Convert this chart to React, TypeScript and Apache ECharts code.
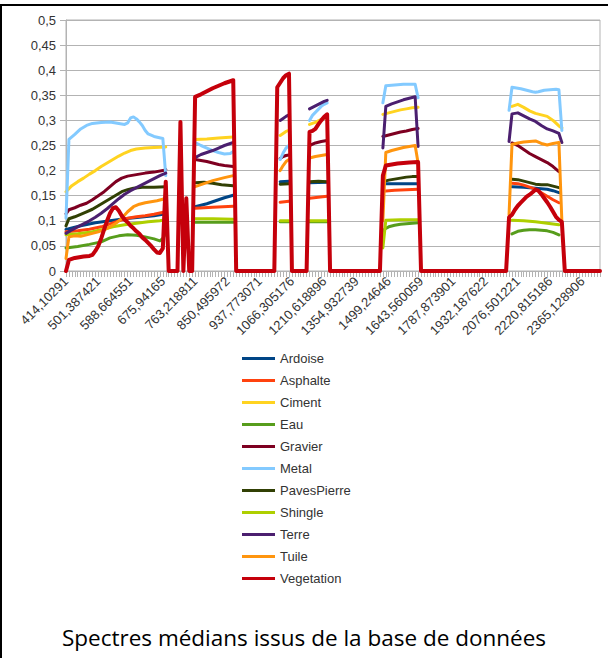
import React, { useEffect, useRef } from "react";
import * as echarts from "echarts";

// x-axis: spectral samples (category index); a label every 11 samples
const tickLabels = [
  "414,10291", "501,387421", "588,664551", "675,94165", "763,218811", "850,495972",
  "937,773071", "1066,305176", "1210,618896", "1354,932739", "1499,24646", "1643,560059",
  "1787,873901", "1932,187622", "2076,501221", "2220,815186", "2365,128906",
];
const LABEL_STEP = 11;
const CATEGORY_COUNT = 183;

const yTicks = [0, 0.05, 0.1, 0.15, 0.2, 0.25, 0.3, 0.35, 0.4, 0.45, 0.5];

const seriesNames = [
  "Ardoise", "Asphalte", "Ciment", "Eau", "Gravier", "Metal",
  "PavesPierre", "Shingle", "Terre", "Tuile", "Vegetation",
];
const seriesColors = [
  "#004586", "#ff420e", "#ffd320", "#579d1c", "#7e0021", "#83caff",
  "#314004", "#aecf00", "#4b1f6f", "#ff950e", "#c5000b",
];

// each series: segments of [sampleIndex, reflectance]
const ardoise = [
  [[0, 0.083], [5, 0.09], [10, 0.096], [15, 0.1], [20, 0.104], [25, 0.107], [30, 0.11], [34, 0.114]],
  [[44, 0.128], [46, 0.131], [48, 0.134], [50, 0.138], [52, 0.142], [54, 0.146], [57, 0.151]],
  [[73, 0.178], [76, 0.179]],
  [[83, 0.176], [89, 0.177]],
  [[108, 0.174], [114, 0.174], [120, 0.174]],
  [[152, 0.168], [156, 0.167], [160, 0.165], [164, 0.163], [166, 0.16], [168, 0.156]],
];
const asphalte = [
  [[0, 0.078], [4, 0.08], [8, 0.083], [12, 0.088], [15, 0.094], [18, 0.1], [21, 0.105], [24, 0.108], [27, 0.11], [30, 0.113], [34, 0.118]],
  [[44, 0.125], [50, 0.127], [57, 0.129]],
  [[73, 0.137], [76, 0.139]],
  [[83, 0.145], [86, 0.147], [89, 0.149]],
  [[108, 0.159], [112, 0.161], [116, 0.162], [120, 0.163]],
  [[152, 0.175], [154, 0.174], [156, 0.171], [158, 0.167], [160, 0.163], [162, 0.156], [164, 0.149], [166, 0.142], [168, 0.136]],
];
const ciment = [
  [[0, 0.158], [2, 0.17], [4, 0.178], [6, 0.185], [8, 0.193], [10, 0.2], [12, 0.208], [14, 0.215], [16, 0.222], [18, 0.229], [20, 0.235], [22, 0.24], [24, 0.243], [27, 0.245], [30, 0.246], [34, 0.247]],
  [[44, 0.262], [48, 0.263], [52, 0.265], [57, 0.267]],
  [[73, 0.27], [74, 0.274], [75, 0.278], [76, 0.28]],
  [[83, 0.292], [85, 0.296], [87, 0.302], [89, 0.307]],
  [[108, 0.312], [110, 0.315], [112, 0.318], [114, 0.321], [116, 0.323], [118, 0.325], [120, 0.326]],
  [[152, 0.328], [154, 0.332], [156, 0.326], [158, 0.319], [160, 0.314], [162, 0.311], [164, 0.308], [166, 0.3], [168, 0.289], [169, 0.285]],
];
const eau = [
  [[0, 0.046], [4, 0.049], [8, 0.053], [12, 0.058], [15, 0.066], [18, 0.07], [21, 0.072], [24, 0.071], [27, 0.068], [30, 0.064], [32, 0.06], [33, 0.065], [34, 0.075]],
  [[44, 0.097], [50, 0.097], [57, 0.097]],
  [[73, 0.098], [76, 0.098]],
  [[83, 0.098], [89, 0.098]],
  [[108, 0.08], [109, 0.085], [110, 0.088], [112, 0.091], [114, 0.093], [116, 0.094], [118, 0.095], [120, 0.096]],
  [[152, 0.074], [154, 0.079], [156, 0.081], [158, 0.082], [160, 0.082], [162, 0.081], [164, 0.08], [166, 0.077], [168, 0.072]],
];
const gravier = [
  [[0, 0.114], [1, 0.122], [3, 0.126], [5, 0.131], [7, 0.135], [9, 0.142], [11, 0.15], [13, 0.158], [15, 0.168], [17, 0.178], [19, 0.185], [21, 0.189], [23, 0.191], [25, 0.193], [27, 0.195], [30, 0.197], [33, 0.2], [34, 0.202]],
  [[44, 0.222], [46, 0.22], [48, 0.218], [50, 0.215], [52, 0.212], [54, 0.21], [57, 0.208]],
  [[73, 0.224], [74, 0.228], [75, 0.23], [76, 0.231]],
  [[83, 0.25], [85, 0.255], [87, 0.258], [89, 0.26]],
  [[108, 0.268], [110, 0.271], [112, 0.274], [114, 0.277], [116, 0.279], [118, 0.282], [120, 0.284]],
  [[152, 0.255], [154, 0.25], [156, 0.242], [158, 0.234], [160, 0.228], [162, 0.222], [164, 0.216], [166, 0.208], [168, 0.198]],
];
const metal = [
  [[0, 0.105], [1, 0.262], [3, 0.272], [5, 0.283], [7, 0.29], [9, 0.294], [12, 0.296], [15, 0.297], [18, 0.294], [20, 0.292], [21, 0.295], [22, 0.305], [23, 0.307], [24, 0.303], [25, 0.297], [26, 0.29], [27, 0.28], [28, 0.273], [30, 0.268], [33, 0.264], [34, 0.19]],
  [[44, 0.256], [46, 0.25], [48, 0.245], [50, 0.24], [52, 0.236], [54, 0.233], [56, 0.234], [57, 0.238]],
  [[73, 0.222], [74, 0.235], [75, 0.245], [76, 0.25]],
  [[83, 0.3], [84, 0.31], [85, 0.316], [86, 0.322], [87, 0.328], [88, 0.332], [89, 0.335]],
  [[108, 0.335], [109, 0.369], [111, 0.37], [113, 0.371], [115, 0.372], [117, 0.372], [119, 0.372], [120, 0.345]],
  [[151, 0.32], [152, 0.366], [153, 0.365], [155, 0.363], [157, 0.36], [159, 0.357], [160, 0.356], [161, 0.357], [163, 0.36], [165, 0.361], [167, 0.362], [168, 0.361], [169, 0.28]],
];
const pavesPierre = [
  [[0, 0.09], [1, 0.104], [3, 0.108], [5, 0.113], [7, 0.118], [9, 0.123], [11, 0.13], [13, 0.137], [15, 0.144], [17, 0.151], [19, 0.158], [21, 0.162], [23, 0.165], [26, 0.167], [30, 0.167], [34, 0.168]],
  [[44, 0.176], [47, 0.177], [50, 0.175], [53, 0.172], [57, 0.17]],
  [[73, 0.173], [76, 0.174]],
  [[83, 0.178], [86, 0.179], [89, 0.178]],
  [[108, 0.178], [110, 0.181], [112, 0.183], [114, 0.185], [116, 0.187], [118, 0.188], [120, 0.188]],
  [[152, 0.183], [154, 0.182], [156, 0.179], [158, 0.176], [160, 0.173], [162, 0.172], [164, 0.172], [166, 0.169], [168, 0.166]],
];
const shingle = [
  [[0, 0.072], [4, 0.074], [8, 0.077], [12, 0.082], [16, 0.088], [20, 0.092], [24, 0.095], [28, 0.098], [32, 0.1], [34, 0.102]],
  [[44, 0.104], [50, 0.104], [57, 0.103]],
  [[73, 0.1], [76, 0.1]],
  [[83, 0.1], [89, 0.1]],
  [[108, 0.046], [109, 0.101], [114, 0.102], [120, 0.102]],
  [[152, 0.101], [156, 0.1], [160, 0.098], [164, 0.095], [168, 0.092]],
];
const terre = [
  [[0, 0.075], [2, 0.082], [4, 0.088], [6, 0.094], [8, 0.1], [10, 0.107], [12, 0.115], [14, 0.124], [16, 0.134], [18, 0.144], [20, 0.153], [22, 0.16], [24, 0.166], [26, 0.172], [28, 0.178], [30, 0.184], [32, 0.19], [34, 0.195]],
  [[44, 0.226], [46, 0.232], [48, 0.236], [50, 0.24], [52, 0.245], [54, 0.25], [56, 0.254], [57, 0.256]],
  [[73, 0.3], [74, 0.304], [75, 0.308], [76, 0.311]],
  [[83, 0.323], [84, 0.326], [85, 0.329], [86, 0.332], [87, 0.335], [88, 0.338], [89, 0.34]],
  [[108, 0.245], [109, 0.328], [111, 0.333], [113, 0.337], [115, 0.341], [117, 0.344], [119, 0.347], [120, 0.248]],
  [[151, 0.258], [152, 0.313], [154, 0.315], [156, 0.309], [158, 0.303], [160, 0.298], [162, 0.29], [164, 0.283], [166, 0.279], [168, 0.274], [169, 0.256]],
];
const tuile = [
  [[0, 0.025], [1, 0.068], [3, 0.07], [5, 0.069], [7, 0.072], [9, 0.075], [11, 0.078], [13, 0.082], [15, 0.088], [17, 0.095], [19, 0.105], [21, 0.118], [23, 0.128], [25, 0.133], [27, 0.136], [29, 0.138], [31, 0.14], [33, 0.143], [34, 0.146]],
  [[44, 0.168], [46, 0.172], [48, 0.176], [50, 0.18], [52, 0.183], [54, 0.186], [57, 0.19]],
  [[73, 0.2], [74, 0.21], [75, 0.218], [76, 0.222]],
  [[83, 0.225], [85, 0.228], [87, 0.23], [89, 0.232]],
  [[108, 0.1], [109, 0.236], [111, 0.24], [113, 0.243], [115, 0.246], [117, 0.248], [119, 0.25], [120, 0.215]],
  [[151, 0.112], [152, 0.252], [154, 0.255], [156, 0.257], [158, 0.258], [160, 0.259], [162, 0.254], [164, 0.251], [166, 0.254], [168, 0.256], [169, 0.1]],
];
const vegetation = [
  [
    [0, 0], [1, 0.022], [3, 0.026], [6, 0.029], [8, 0.03], [9, 0.032], [10, 0.04], [11, 0.05], [12, 0.065],
    [13, 0.083], [14, 0.1], [15, 0.115], [16, 0.125], [17, 0.127], [18, 0.12], [19, 0.11], [20, 0.102],
    [21, 0.097], [22, 0.09], [23, 0.085], [24, 0.079], [25, 0.074], [26, 0.067], [27, 0.062], [28, 0.056],
    [29, 0.05], [30, 0.043], [31, 0.037], [32, 0.036], [33, 0.045], [34, 0.178], [35, 0],
    [38, 0], [39, 0.297], [40, 0], [41, 0.145], [42, 0], [43, 0],
    [44, 0.347], [46, 0.352], [48, 0.358], [50, 0.364], [52, 0.369], [54, 0.374], [56, 0.378], [57, 0.38], [58, 0],
    [71, 0], [72, 0.366], [73, 0.375], [74, 0.384], [75, 0.39], [76, 0.393], [77, 0],
    [82, 0], [83, 0.277], [84, 0.279], [85, 0.283], [86, 0.292], [87, 0.3], [88, 0.307], [89, 0.312], [90, 0],
    [107, 0], [108, 0.19], [109, 0.21], [111, 0.212], [113, 0.214], [115, 0.215], [117, 0.216], [120, 0.217], [121, 0],
    [150, 0], [151, 0.107], [152, 0.112], [153, 0.122], [154, 0.13], [155, 0.136], [156, 0.142], [157, 0.148],
    [158, 0.152], [159, 0.157], [160, 0.162], [161, 0.16], [162, 0.153], [163, 0.145], [164, 0.137],
    [165, 0.128], [166, 0.118], [167, 0.108], [168, 0.102], [169, 0.098], [170, 0], [182, 0],
  ],
];

const seriesSegments = [
  ardoise, asphalte, ciment, eau, gravier, metal, pavesPierre, shingle, terre, tuile, vegetation,
];

const titleText = "Spectres médians issus de la base de données";

function toLineData(segments: number[][][]) {
  const out: any[] = [];
  segments.forEach((seg, i) => {
    if (i > 0) out.push([seg[0][0] - 1, "-"]);
    seg.forEach((p) => out.push([p[0], p[1]]));
  });
  return out;
}

const categories = Array.from({ length: CATEGORY_COUNT }, (_, i) =>
  i % LABEL_STEP === 0 && tickLabels[i / LABEL_STEP] ? tickLabels[i / LABEL_STEP] : ""
);

const AXIS_GRAY = "#b3b3b3";
const TEXT = "#333333";
const FONT = "Liberation Sans";

export default function App() {
  const ref = useRef<HTMLDivElement>(null);
  useEffect(() => {
    document.body.style.margin = "0";
    if (!ref.current) return;
    const chart = echarts.init(ref.current, undefined, { renderer: "svg" });
    chart.setOption({
      animation: false,
      backgroundColor: "#ffffff",
      title: {
        text: titleText,
        left: "center",
        top: 626,
        padding: 0,
        textStyle: { fontFamily: "Open Sans", fontSize: 22.5, fontWeight: "normal", color: "#000000" },
      },
      legend: {
        orient: "vertical",
        left: 242,
        top: 352,
        padding: 0,
        itemWidth: 33,
        itemHeight: 3,
        itemGap: 9,
        icon: "rect",
        data: seriesNames,
        textStyle: { fontFamily: FONT, fontSize: 13, color: TEXT },
      },
      grid: {
        left: 66,
        right: 8,
        top: 20,
        bottom: 387,
        show: true,
        borderColor: AXIS_GRAY,
        borderWidth: 1,
      },
      xAxis: {
        type: "category",
        data: categories,
        boundaryGap: false,
        axisLine: { lineStyle: { color: AXIS_GRAY, width: 1 } },
        axisTick: { show: true, interval: 0, length: 6, lineStyle: { color: AXIS_GRAY } },
        axisLabel: {
          interval: LABEL_STEP - 1,
          rotate: 45,
          margin: 8,
          fontFamily: FONT,
          fontSize: 13,
          color: TEXT,
        },
        splitLine: { show: false },
      },
      yAxis: {
        type: "value",
        min: yTicks[0],
        max: yTicks[yTicks.length - 1],
        interval: yTicks[1] - yTicks[0],
        axisLine: { show: true, lineStyle: { color: AXIS_GRAY } },
        axisTick: { show: true, length: 6, lineStyle: { color: AXIS_GRAY } },
        axisLabel: {
          margin: 10,
          fontFamily: FONT,
          fontSize: 13,
          color: TEXT,
          formatter: (v: number) => String(+v.toFixed(2)).replace(".", ","),
        },
        splitLine: { show: true, lineStyle: { color: AXIS_GRAY, width: 1 } },
      },
      series: seriesNames.map((name, i) => ({
        name,
        type: "line",
        data: toLineData(seriesSegments[i]),
        showSymbol: false,
        symbol: "none",
        connectNulls: false,
        color: seriesColors[i],
        lineStyle: {
          color: seriesColors[i],
          width: name === "Vegetation" ? 4 : 3,
          cap: "round",
          join: "round",
        },
        z: 2 + i,
      })),
      graphic: [
        { type: "rect", shape: { x: 0, y: 4, width: 608, height: 2 }, style: { fill: "#000000" }, z: 100 },
        { type: "rect", shape: { x: 0, y: 4, width: 2, height: 654 }, style: { fill: "#000000" }, z: 100 },
      ],
    });
    return () => chart.dispose();
  }, []);
  return (
    <div
      ref={ref}
      style={{ position: "absolute", left: 0, top: 0, width: 608, height: 658, overflow: "hidden" }}
    />
  );
}
